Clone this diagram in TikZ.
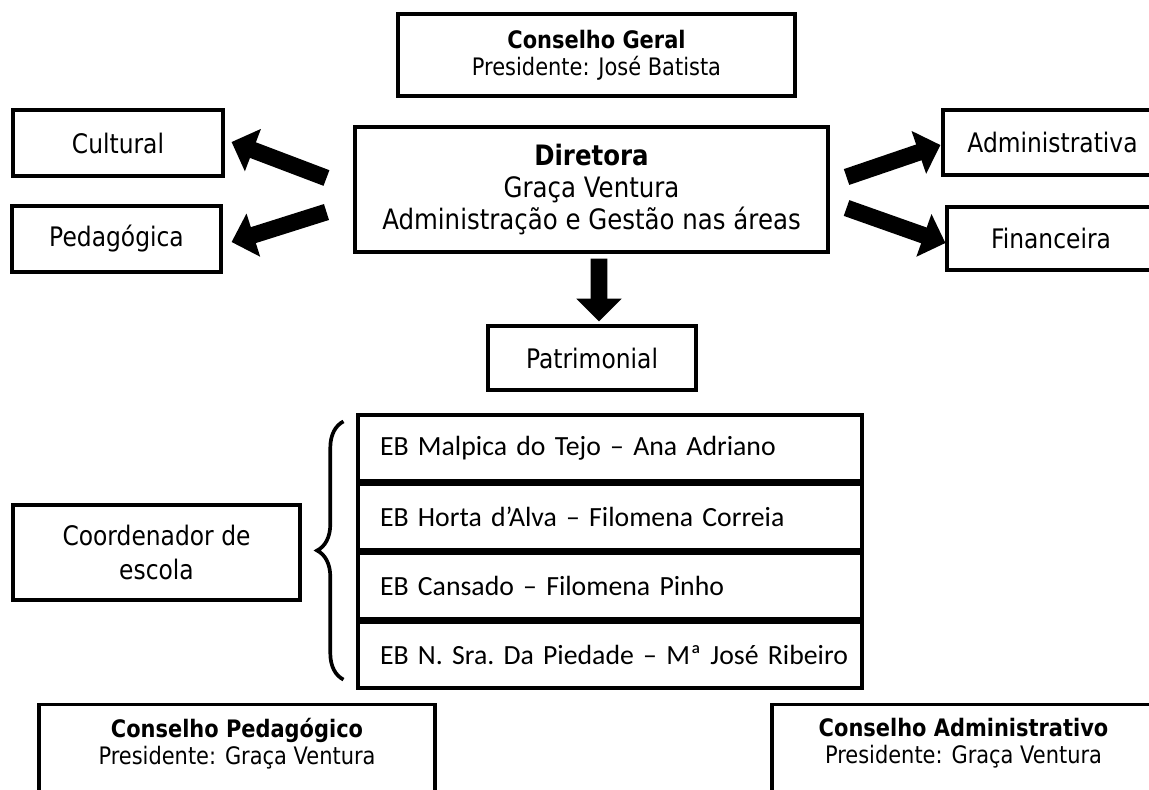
\documentclass[tikz,border=0pt]{standalone}
\usepackage{fontspec}
\setmainfont{DejaVu Sans}[FakeStretch=0.87]
\newfontfamily\calib{Carlito}
\usetikzlibrary{arrows.meta}
\usetikzlibrary{positioning}
\usetikzlibrary{decorations.pathreplacing}
\tikzset{box/.style = {draw, line width = 1.8pt, align = center, inner sep = 0}}
\tikzset{unit/.style = {box, font = \fontsize{15.3}{17.6}\selectfont}}
\tikzset{council/.style = {align = center, font = \fontsize{13.7}{15.3}\selectfont}}
\tikzset{school/.style = {box, align = left, text width = 9.2cm, inner xsep = 0.44cm,
    minimum height = 1.32cm, font = \calib\frenchspacing\fontsize{15.8}{19}\selectfont}}
\tikzset{fat/.style = {line width = 9.5pt, -{Triangle[width = 25pt, length = 13pt]}}}
\tikzset{brc/.style = {line width = 2.1pt, decorate, decoration = {brace, amplitude = 15pt}}}

\begin{document}
\begin{tikzpicture}[x = 0.02cm, y = -0.02cm]
      \useasboundingbox (0, 0) rectangle (1149, 789);
      \clip (0, 0) rectangle (1149, 789);

      \node [box, council, minimum width = 7.94cm, minimum height = 1.64cm] (geral) at (596.5, 55)
        {\textbf{Conselho Geral}\\Presidente: José Batista};
      \node [unit, minimum width = 9.46cm, minimum height = 2.5cm, font = \fontsize{16}{18}\selectfont]
        (dir) at (591.5, 189.5) {\textbf{Diretora}\\Graça Ventura\\Administração e Gestão nas áreas};

      \node [unit, minimum width = 4.2cm, minimum height = 1.32cm] (cult) at (118, 143) {Cultural};
      \node [unit, minimum width = 4.18cm, minimum height = 1.32cm] (ped) at (116.5, 239) {Pedagógica};
      \node [unit, minimum width = 4.38cm, minimum height = 1.3cm] (adm) at (1052.5, 142.5) {Administrativa};
      \node [unit, minimum width = 4.16cm, minimum height = 1.26cm] (fin) at (1051, 238.5) {Financeira};
      \node [unit, minimum width = 4.16cm, minimum height = 1.28cm] (patr) at (592, 358) {Patrimonial};

      \draw [fat] ([shift = {(-27, -11.5)}] dir.west) -- ([shift = {(7, -1)}] cult.east);
      \draw [fat] ([shift = {(-27, 22.5)}] dir.west) -- ([shift = {(9, 3)}] ped.east);
      \draw [fat] ([shift = {(17, -12.5)}] dir.east) -- ([shift = {(-1, 2.5)}] adm.west);
      \draw [fat] ([shift = {(17, 18.5)}] dir.east) -- ([shift = {(0, 4.5)}] fin.west);
      \draw [fat] ([shift = {(7.5, 5)}] dir.south) -- ([shift = {(7, -3)}] patr.north);

      % escolas do agrupamento
      \node [school] (s1) at (610, 448) {EB Malpica do Tejo – Ana Adriano};
      \node [school] (s2) at (610, 517) {EB Horta d’Alva – Filomena Correia};
      \node [school] (s3) at (610, 586) {EB Cansado – Filomena Pinho};
      \node [school] (s4) at (610, 655) {\mbox{EB N. Sra. Da Piedade – Mª José Ribeiro}};

      \node [unit, minimum width = 5.74cm, minimum height = 1.9cm, font = \fontsize{15.3}{19.8}\selectfont]
        (coord) at (156.5, 552.5) {Coordenador de\\escola};
      \draw [brc] ([shift = {(-13, -10)}] s4.south west) -- ([shift = {(-13, 8)}] s1.north west);

      \node [box, anchor = north, minimum width = 7.92cm, minimum height = 3cm] (cpedbox) at (237, 703) {};
      \node [council] (cped) at (237, 743.5) {\textbf{Conselho Pedagógico}\\Presidente: Graça Ventura};
      \node [box, anchor = north, minimum width = 7.66cm, minimum height = 3cm] (cadmbox) at (963.5, 703) {};
      \node [council] (cadm) at (963.5, 743.5) {\textbf{Conselho Administrativo}\\Presidente: Graça Ventura};
    \end{tikzpicture}
\end{document}
